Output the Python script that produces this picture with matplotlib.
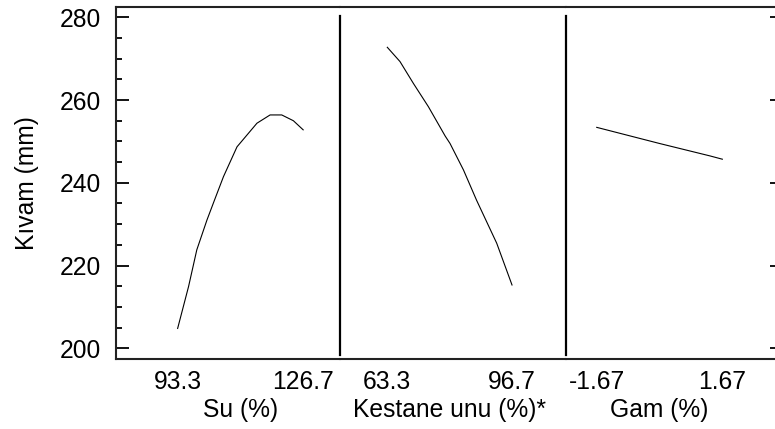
import matplotlib
matplotlib.use("Agg")
import matplotlib.pyplot as plt
import matplotlib.transforms as mtransforms
from matplotlib.ticker import MultipleLocator, FixedLocator

plt.rcParams['font.family'] = ['Liberation Sans', 'DejaVu Sans']

# Data
su_x = [93.3, 96.2, 98.4, 101.1, 103.1, 105.5, 109.1, 114.4, 117.9, 121.0, 124.1, 126.7]
su_y = [204.8, 214.9, 223.8, 231.0, 235.8, 241.5, 248.7, 254.4, 256.4, 256.4, 255.0, 252.8]

kestane_x = [63.3, 66.7, 70.3, 74.3, 78.8, 80.1, 83.7, 87.2, 92.6, 96.7]
kestane_y = [272.75, 269.3, 264.0, 258.4, 251.3, 249.5, 243.1, 235.8, 225.4, 215.3]

gam_x = [-1.67, 0.0, 1.34, 1.67]
gam_y = [253.4, 249.5, 246.5, 245.7]

su_ticks = [93.3, 126.7]
kestane_ticks = [63.3, 96.7]
gam_ticks = [-1.67, 1.67]
su_ticklabels = ["93.3", "126.7"]
kestane_ticklabels = ["63.3", "96.7"]
gam_ticklabels = ["-1.67", "1.67"]

panel_labels = ["Su (%)", "Kestane unu (%)*", "Gam (%)"]
y_label = "Kıvam (mm)"
y_ticks = [200, 220, 240, 260, 280]

W, H = 775, 429
fig = plt.figure(figsize=(W / 100, H / 100), dpi=100)

bottom = (H - 359) / H
height = 352 / H
panels = [
    (116, 340, (76.9, 136.5), su_x, su_y, su_ticks, su_ticklabels),
    (340, 566, (50.63, 111.16), kestane_x, kestane_y, kestane_ticks, kestane_ticklabels),
    (566, 775, (-2.487, 3.07), gam_x, gam_y, gam_ticks, gam_ticklabels),
]

FS = 17.7
spine_lw = 1.5
axes = []
for i, (l, r, xlim, xs, ys, tks, tls) in enumerate(panels):
    ax = fig.add_axes([l / W, bottom, (r - l) / W, height])
    axes.append(ax)
    ax.plot(xs, ys, color='black', lw=0.8)
    ax.set_xlim(*xlim)
    ax.set_ylim(197.41, 282.49)
    ax.set_xticks(tks)
    ax.set_xticklabels(tls, fontsize=FS)
    ax.tick_params(axis='x', length=0, pad=8)
    for s in ['top', 'bottom']:
        ax.spines[s].set_linewidth(spine_lw)
        ax.spines[s].set_color('#222222')
    ax.spines['right'].set_visible(False)
    if i == 0:
        ax.spines['left'].set_linewidth(spine_lw)
        ax.spines['left'].set_color('#222222')
        ax.yaxis.set_major_locator(FixedLocator(y_ticks))
        ax.yaxis.set_minor_locator(MultipleLocator(5))
        ax.tick_params(axis='y', which='major', direction='in', length=9.5, width=1.3,
                       labelsize=FS, pad=11)
        ax.tick_params(axis='y', which='minor', direction='in', length=4.5, width=1.3)
        ax.set_ylabel(y_label, fontsize=FS, labelpad=15)
    else:
        ax.spines['left'].set_visible(False)
        ax.yaxis.set_major_locator(FixedLocator(y_ticks))
        ax.tick_params(axis='y', which='both', left=False, labelleft=False)
        # separator line, slightly shorter than the frame
        ax.axvline(xlim[0], ymin=(359 - 355) / 352, ymax=(359 - 16) / 352,
                   color='black', lw=1.6, clip_on=False)
    if i == 2:
        ax.tick_params(axis='y', which='major', right=True, direction='in',
                       length=3.5, width=1.3)
    mid = (tks[0] + tks[1]) / 2
    trans = mtransforms.blended_transform_factory(ax.transData, ax.transAxes)
    ax.text(mid, -51 / 352, panel_labels[i], transform=trans, ha='center',
            va='center', fontsize=FS)

fig.savefig("out.png", dpi=100)
